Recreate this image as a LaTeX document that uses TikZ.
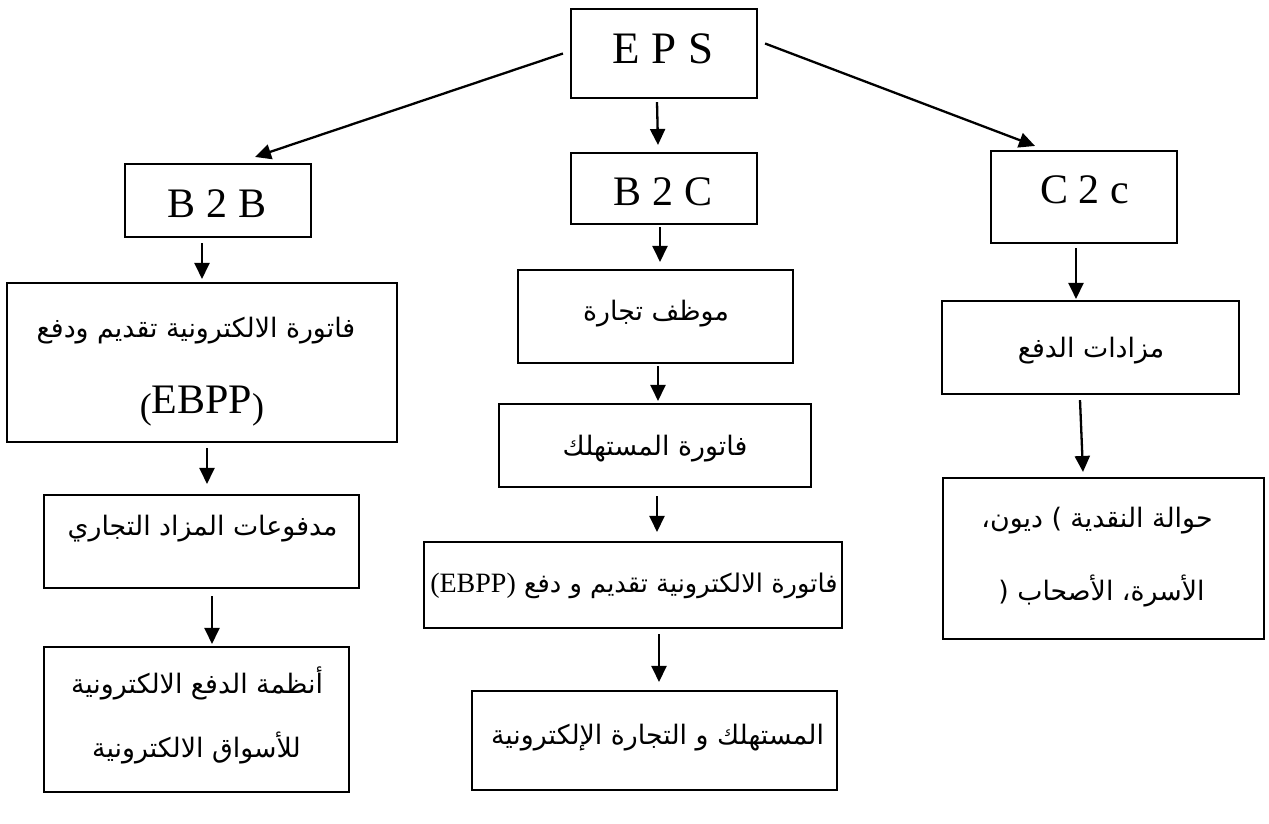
\documentclass[tikz,border=0pt]{standalone}
\usepackage{fontspec}
\setmainfont{Liberation Serif}
\newfontfamily\arabicfont[Script=Arabic]{DejaVu Sans}
\TeXXeTstate=1
\usetikzlibrary{arrows.meta}
\newcommand\rtl[1]{\beginR #1\endR}
\tikzset{
  box/.style={draw, line width=2.1pt, rectangle, inner sep=0pt},
  arr/.style={line width=2.3pt, -{Triangle[length=16pt,width=15pt]}},
  latin/.style={inner sep=0pt, anchor=base, font=\fontsize{42}{50}\selectfont},
  arab/.style={inner sep=0pt, anchor=base, font=\arabicfont\fontsize{26.8}{30}\selectfont},
}
\begin{document}
\begin{tikzpicture}[x=1pt, y=-1pt]
\useasboundingbox (0,0) rectangle (1269,823);

% ---- frames ----
\node[box, minimum width=186pt, minimum height=89pt]  (eps) at (664,53.5) {};
\node[box, minimum width=186pt, minimum height=73pt]  (b2b) at (218,200.5) {};
\node[box, minimum width=186pt, minimum height=71pt]  (b2c) at (664,188.5) {};
\node[box, minimum width=186pt, minimum height=92pt]  (c2c) at (1084,197) {};

\node[box, minimum width=390pt, minimum height=159pt] (bA) at (202,362.5) {};
\node[box, minimum width=315pt, minimum height=93pt]  (bB) at (201.5,541.5) {};
\node[box, minimum width=305pt, minimum height=145pt] (bC) at (196.5,719.5) {};

\node[box, minimum width=275pt, minimum height=93pt]  (cA) at (655.5,316.5) {};
\node[box, minimum width=312pt, minimum height=83pt]  (cB) at (655,445.5) {};
\node[box, minimum width=418pt, minimum height=86pt]  (cC) at (633,585) {};
\node[box, minimum width=365pt, minimum height=99pt]  (cD) at (654.5,740.5) {};

\node[box, minimum width=297pt, minimum height=93pt]  (dA) at (1090.5,347.5) {};
\node[box, minimum width=321pt, minimum height=161pt] (dB) at (1103.5,558.5) {};

% ---- labels ----
\node[latin, font=\fontsize{45}{50}\selectfont] (epsT) at (663,63) {E P S};
\node[latin] (b2bT) at (217,217) {B 2 B};
\node[latin] (b2cT) at (663,205) {B 2 C};
\node[latin] (c2cT) at (1084.5,203) {C 2 c};

\node[arab] (bA1) at (196,337) {\rtl{فاتورة الالكترونية تقديم ودفع}};
\node[latin] (bA2) at (202,413) {{\fontsize{36}{36}\selectfont\raisebox{-5pt}{(}}EBPP{\fontsize{36}{36}\selectfont\raisebox{-5pt}{)}}};
\node[arab] (bBT) at (202.5,535) {\rtl{مدفوعات المزاد التجاري}};
\node[arab] (bC1) at (197,693) {\rtl{أنظمة الدفع الالكترونية}};
\node[arab] (bC2) at (196.5,757) {\rtl{للأسواق الالكترونية}};

\node[arab] (cAT) at (656,320) {\rtl{موظف تجارة}};
\node[arab] (cBT) at (655,455) {\rtl{فاتورة المستهلك}};
\node[arab, font=\arabicfont\fontsize{25.7}{30}\selectfont] (cCT) at (634,592) {\rtl{فاتورة الالكترونية تقديم و دفع \beginL{\rmfamily\fontsize{28}{30}\selectfont (EBPP)}\endL}};
\node[arab] (cDT) at (657.5,744) {\rtl{المستهلك و التجارة الإلكترونية}};

\node[arab] (dAT) at (1091,357) {\rtl{مزادات الدفع}};
\node[arab] (dB1) at (1097,527) {\rtl{حوالة النقدية ) ديون،}};
\node[arab] (dB2) at (1101.5,600) {\rtl{الأسرة، الأصحاب (}};

% ---- connectors ----
\draw[arr] ([xshift=-7pt]eps.west) -- ([xshift=37pt,yshift=6pt]b2b.north);
\draw[arr] ([xshift=-7pt,yshift=-3pt]eps.south) -- ([xshift=-6pt,yshift=7pt]b2c.north);
\draw[arr] ([xshift=7pt,yshift=10pt]eps.east) -- ([xshift=-49pt,yshift=4pt]c2c.north);

\draw[arr] ([xshift=-16pt,yshift=-5pt]b2b.south) -- ([yshift=3pt]bA.north);
\draw[arr] ([xshift=5pt,yshift=-5pt]bA.south) -- ([xshift=5.5pt,yshift=10pt]bB.north);
\draw[arr] ([xshift=10.5pt,yshift=-7pt]bB.south) -- ([xshift=15.5pt,yshift=2pt]bC.north);

\draw[arr] ([xshift=-4pt,yshift=-2pt]b2c.south) -- ([xshift=4.5pt,yshift=7pt]cA.north);
\draw[arr] ([xshift=2.5pt,yshift=-2pt]cA.south) -- ([xshift=3pt,yshift=2pt]cB.north);
\draw[arr] ([xshift=2pt,yshift=-8pt]cB.south) -- ([xshift=24pt,yshift=9pt]cC.north);
\draw[arr] ([xshift=26pt,yshift=-5pt]cC.south) -- ([xshift=4.5pt,yshift=8pt]cD.north);

\draw[arr] ([xshift=-8pt,yshift=-4pt]c2c.south) -- ([xshift=-14.5pt,yshift=1pt]dA.north);
\draw[arr] ([xshift=-10.5pt,yshift=-5pt]dA.south) -- ([xshift=-20.5pt,yshift=5pt]dB.north);
\end{tikzpicture}
\end{document}
